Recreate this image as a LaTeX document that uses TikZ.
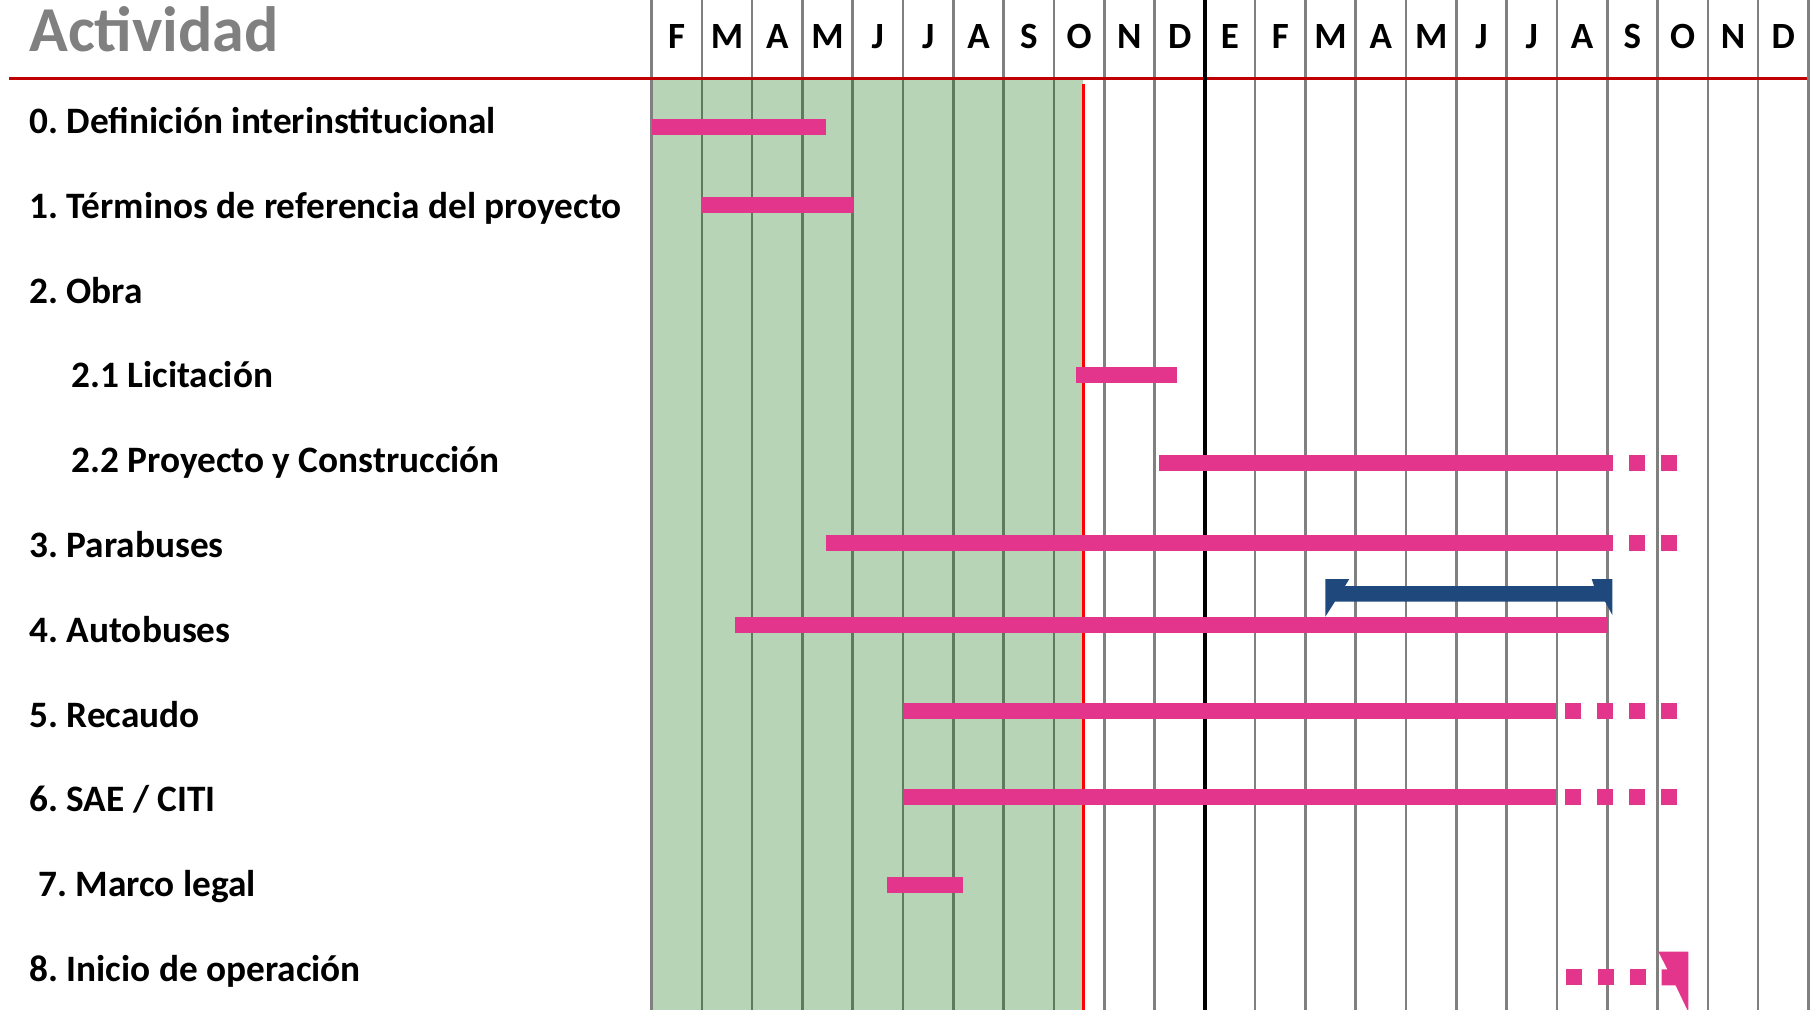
\documentclass[tikz,border=0pt]{standalone}
\usepackage{fontspec}
\setmainfont{Carlito}
\frenchspacing
\definecolor{barcolor}{RGB}{227,53,140}
\definecolor{arrowcolor}{RGB}{31,73,125}
\definecolor{donecolor}{RGB}{18,112,18}
\definecolor{gridcolor}{RGB}{128,128,128}
\definecolor{headcolor}{RGB}{192,0,0}
\definecolor{titlecolor}{RGB}{128,128,128}
% solid bar: x start, x end, y centre
\newcommand{\actbar}[3]{%
  \fill[barcolor] (#1,#3-8) rectangle (#2,#3+8);
}
% dotted tail: first x, number of squares, y centre
\newcommand{\actdots}[3]{%
  \foreach \k in {1,...,#2}
    \fill[barcolor] (#1+32*\k-32,#3-8) rectangle ++(16,16);
}
\tikzset{
  month/.style={font=\fontsize{18.5}{20}\selectfont\bfseries, anchor=base, inner sep=0pt},
  activity/.style={font=\fontsize{18.65}{20}\selectfont\bfseries, anchor=base west, inner sep=0pt},
}
\begin{document}
\begin{tikzpicture}[x=0.5pt, y=-0.5pt]
    \useasboundingbox (0,0) rectangle (1814,1010);
    % Month grid
    \foreach \i in {0,...,23} {
      \draw[gridcolor, line width=1.3pt] (651.5+50.3*\i,0) -- (651.5+50.3*\i,1010);
    }
    % Months already done
    \fill[donecolor, fill opacity=0.3] (653,78.5) rectangle (1083,1010);
    % Header
    \node[font=\fontsize{32}{34}\selectfont\bfseries, text=titlecolor, anchor=base west, inner sep=0pt]
      (title) at (29,52) {Actividad};
    \foreach \m [count=\i from 0] in {F,M,A,M,J,J,A,S,O,N,D,E,F,M,A,M,J,J,A,S,O,N,D} {
      \node[month] (m\i) at (651.5+50.3*\i+25.15,48.6) {\m};
    }
    \draw[headcolor, line width=1.4pt] (9,78.5) -- (1807,78.5);
    % Today and year change
    \draw[red, line width=1.5pt] (1083.3,84) -- (1083.3,1010);
    \draw[black, line width=1.7pt] (1204.8,0) -- (1204.8,1010);
    % Activities
    \node[activity] (act0)  at (29,133.5) {0. Definición interinstitucional};
    \node[activity] (act1)  at (29,218.3) {1. Términos de referencia del proyecto};
    \node[activity] (act2)  at (29,303.1) {2. Obra};
    \node[activity] (act21) at (71,387.9) {2.1 Licitación};
    \node[activity] (act22) at (71,472.7) {2.2 Proyecto y Construcción};
    \node[activity] (act3)  at (29,557.5) {3. Parabuses};
    \node[activity] (act4)  at (29,642.3) {4. Autobuses};
    \node[activity] (act5)  at (29,727.1) {5. Recaudo};
    \node[activity] (act6)  at (29,811.9) {6. SAE / CITI};
    \node[activity] (act7)  at (38,896.7) {7. Marco legal};
    \node[activity] (act8)  at (29,981.5) {8. Inicio de operación};
    % Bars (x start, x end, y)
    \actbar{651.7}{826}{127}
    \actbar{701}{852.7}{205}
    \actbar{1076}{1177}{375}
    \actbar{1159}{1613}{463} \actdots{1629.3}{2}{463}
    \actbar{826}{1613}{543}  \actdots{1629.3}{2}{543}
    \actbar{735}{1608}{625}
    \actbar{903}{1556}{711}  \actdots{1565.3}{4}{711}
    \actbar{903}{1556}{797}  \actdots{1565.3}{4}{797}
    \actbar{887}{962.5}{885}
    \actdots{1565.7}{3}{977}
    \fill[barcolor] (1658.3,951.7) -- (1688.3,951.7) -- (1688.3,1012) -- (1675.6,985.3)
      -- (1661.7,985.3) -- (1661.7,969.3) -- (1667.4,969.3) -- cycle;
    % Fleet arrival
    \fill[arrowcolor] (1325.3,579) -- (1349.3,579) -- (1345,586) -- (1594,586) -- (1591.7,579)
      -- (1612.3,579) -- (1612.3,615) -- (1605,601.5) -- (1335,601.5) -- (1325.3,616.7) -- cycle;
\end{tikzpicture}
\end{document}
